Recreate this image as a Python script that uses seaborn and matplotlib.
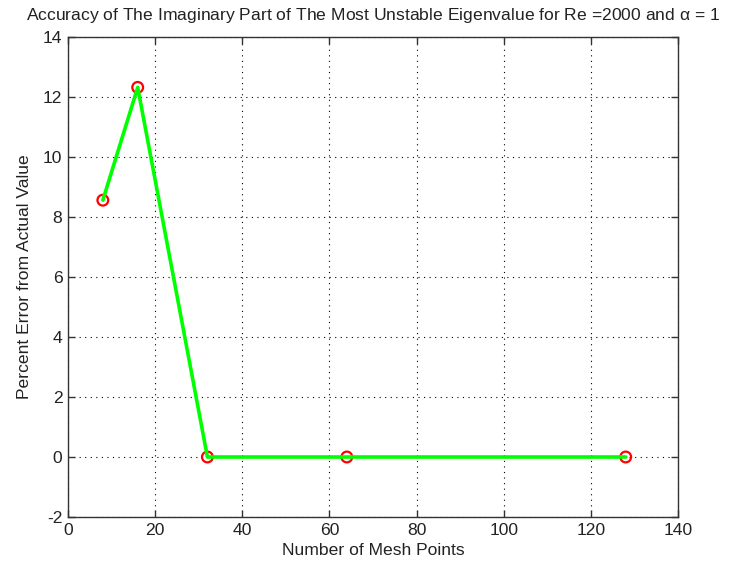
import matplotlib
matplotlib.use("Agg")
import matplotlib.pyplot as plt
import seaborn as sns
import pandas as pd

mesh_points = [8, 16, 32, 64, 128]
percent_error = [8.56, 12.32, 0.0, 0.0, 0.0]
x_ticks = [0, 20, 40, 60, 80, 100, 120, 140]
y_ticks = [-2, 0, 2, 4, 6, 8, 10, 12, 14]

sns.set_theme(style="white")
plt.rcParams["font.family"] = ["Liberation Sans", "DejaVu Sans"]
plt.rcParams["mathtext.fontset"] = "custom"
plt.rcParams["mathtext.rm"] = "Liberation Sans"
plt.rcParams["mathtext.it"] = "Liberation Sans"
plt.rcParams["axes.unicode_minus"] = False

FS = 12.6
TXT = "#222222"

df = pd.DataFrame({"n": mesh_points, "err": percent_error})

fig = plt.figure(figsize=(7.31, 5.68), dpi=100)
ax = fig.add_axes([0.093, 0.0898, 0.8345, 0.8451])

sns.scatterplot(data=df, x="n", y="err", ax=ax, marker="o", s=60,
                facecolor="none", edgecolor="#ff0000", linewidth=1.6, zorder=3)
sns.lineplot(data=df, x="n", y="err", ax=ax, color="#00ff00", linewidth=2.6,
             zorder=4, estimator=None, sort=False)

ax.set_xlim(0, 140)
ax.set_ylim(-2, 14)
ax.set_xticks(x_ticks)
ax.set_yticks(y_ticks)
ax.grid(True, linestyle=(0, (1, 4)), color="black", linewidth=0.8)
for s in ax.spines.values():
    s.set_color("#333333")
    s.set_linewidth(1.0)
ax.tick_params(direction="in", length=5, width=1, colors="#333333",
               labelsize=FS, labelcolor=TXT, top=True, right=True,
               bottom=True, left=True, pad=4)
ax.set_xlabel("Number of Mesh Points", fontsize=FS, color=TXT, labelpad=4)
ax.set_ylabel("Percent Error from Actual Value", fontsize=FS, color=TXT, labelpad=8)
ax.set_title(r"Accuracy of The Imaginary Part of The Most Unstable Eigenvalue for Re =2000 and $\alpha$ = 1",
             fontsize=FS, color=TXT, pad=12)

fig.savefig("out.png", dpi=100)
